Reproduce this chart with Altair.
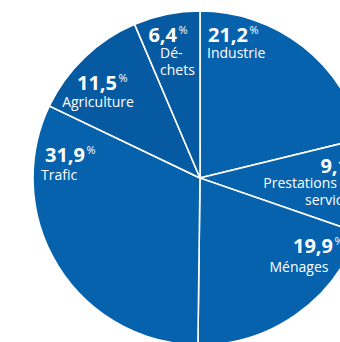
import altair as alt
import pandas as pd

categories = ["Industrie", "Prestations de services", "Ménages", "Trafic", "Agriculture", "Déchets"]
shares = [21.2, 9.1, 19.9, 31.9, 11.5, 6.4]
share_text = ["21,2", "9,1", "19,9", "31,9", "11,5", "6,4"]
colors = ["#0762AD", "#0762AD", "#0762AD", "#0762AD", "#065AA1", "#065AA1"]

df = pd.DataFrame({
    "cat": categories,
    "share": shares,
    "idx": list(range(len(categories))),
})

CX, CY, R = 200, 178, 167

pie = alt.Chart(df).mark_arc(outerRadius=R, stroke="white", strokeWidth=1.6).encode(
    theta=alt.Theta("share:Q", stack=True),
    order=alt.Order("idx:Q"),
    color=alt.Color("cat:N", scale=alt.Scale(domain=categories, range=colors), legend=None),
    x=alt.value(CX),
    y=alt.value(CY),
)

# label layout (annotation placement, pixels)
num_pos = {  # right edge of number, baseline
    "Industrie": (248, 42),
    "Prestations de services": (349, 173),
    "Ménages": (333, 253),
    "Trafic": (85, 162),
    "Agriculture": (117, 90),
    "Déchets": (177, 42),
}
name_lines = {
    "Industrie": [("Industrie", 207, 58, "left")],
    "Prestations de services": [("Prestations de", 357, 188, "right"), ("services", 357, 205, "right")],
    "Ménages": [("Ménages", 299, 272, "center")],
    "Trafic": [("Trafic", 41, 180, "left")],
    "Agriculture": [("Agriculture", 98, 107, "center")],
    "Déchets": [("Dé-", 160, 58, "left"), ("chets", 160, 75, "left")],
}

nums = pd.DataFrame({
    "t": share_text,
    "x": [num_pos[c][0] for c in categories],
    "y": [num_pos[c][1] for c in categories],
})
pct = pd.DataFrame({
    "t": ["%"] * len(categories),
    "x": [num_pos[c][0] + 1.5 for c in categories],
    "y": [num_pos[c][1] - 8 for c in categories],
})
rows = []
for c in categories:
    for t, x, y, a in name_lines[c]:
        rows.append({"t": t, "x": x, "y": y, "a": a})
names = pd.DataFrame(rows)

def txt(data, **kw):
    return alt.Chart(data).mark_text(color="white", font="Open Sans", baseline="alphabetic", **kw).encode(
        x=alt.X("x:Q", scale=None, axis=None),
        y=alt.Y("y:Q", scale=None, axis=None),
        text="t:N",
    )

layers = [pie,
          txt(nums, fontSize=20, fontWeight="bold", align="right"),
          txt(pct, fontSize=11, align="left")]
for a in ["left", "right", "center"]:
    sub = names[names["a"] == a]
    if len(sub):
        layers.append(txt(sub, fontSize=14, align=a))

chart = alt.layer(*layers).properties(
    width=340, height=342, padding=0, autosize=alt.AutoSizeParams(type="none"),
    background="white",
).configure_view(stroke=None)

chart.save("out.html", embed_options={"renderer": "svg", "actions": False})
